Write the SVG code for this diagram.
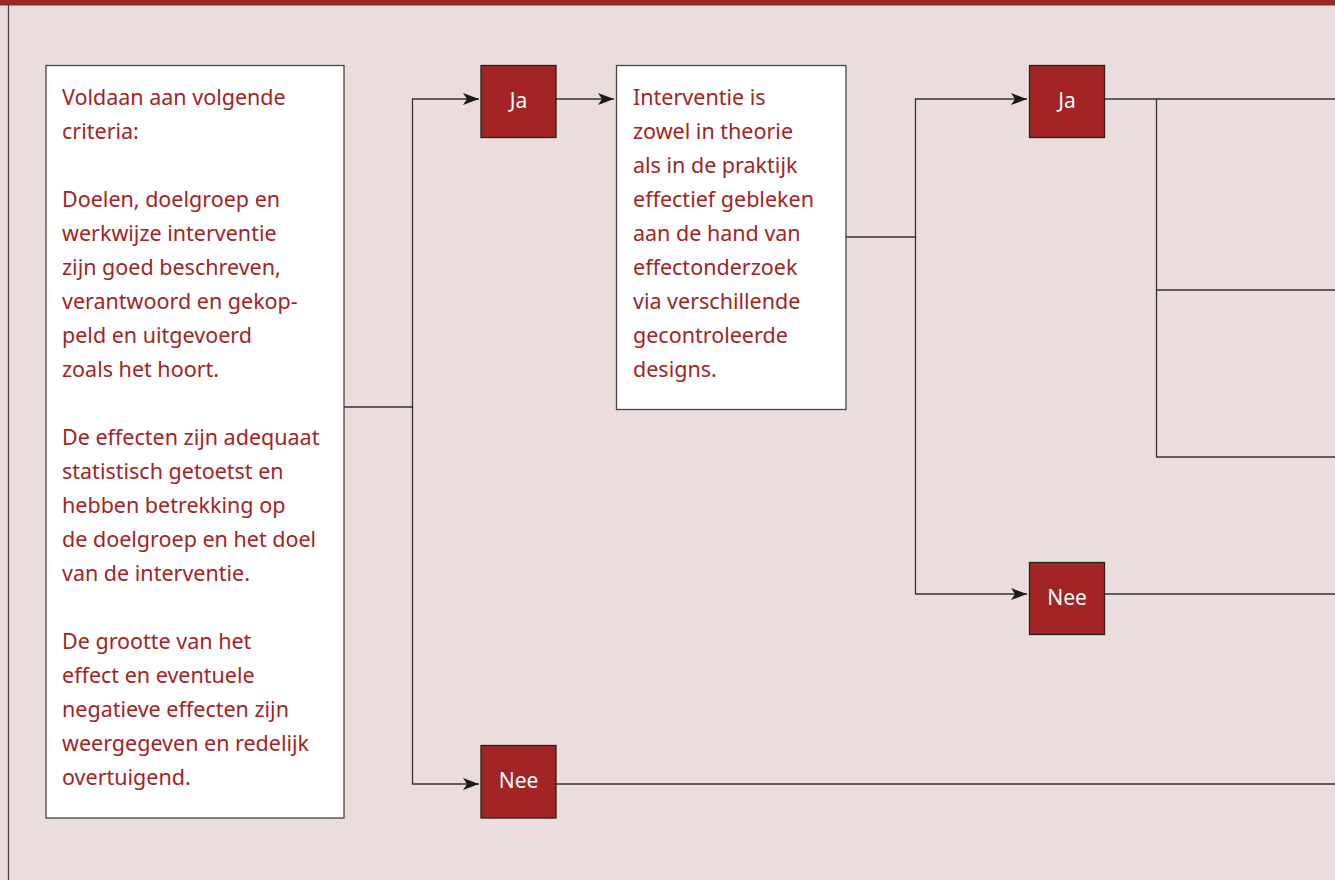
<svg xmlns="http://www.w3.org/2000/svg" width="1335" height="880" viewBox="0 0 1335 880">
<style>
.bg{fill:#ecdddd}
.box{fill:#fff;stroke:#444;stroke-width:1.3}
.rbox{fill:#a22424;stroke:#222;stroke-width:1.3}
.t{font-family:"Noto Sans","Open Sans",sans-serif;font-size:21.5px;fill:#a22424}
.w{font-family:"Noto Sans","Open Sans",sans-serif;font-size:21px;fill:#fff;text-anchor:middle}
.c{fill:none;stroke:#333;stroke-width:1.3}
</style>
<defs>
<marker id="ah" viewBox="0 0 16 12" refX="16" refY="6" markerWidth="16" markerHeight="12" markerUnits="userSpaceOnUse" orient="auto">
<path d="M0,0 L16,6 L0,12 L4,6 Z" fill="#1a1a1a"/>
</marker>
</defs>
<rect class="bg" x="0" y="0" width="1335" height="880"/>
<rect x="0" y="0" width="1335" height="5" fill="#a22424"/>
<line x1="0" y1="5" x2="1335" y2="5" stroke="#444" stroke-width="1"/>
<line x1="8.5" y1="5" x2="8.5" y2="880" stroke="#444" stroke-width="1.3"/>
<g id="connectors">
<path class="c" d="M344,407 H412.5 V99 H479" marker-end="url(#ah)"/>
<path class="c" d="M412.5,407 V784 H479" marker-end="url(#ah)"/>
<path class="c" d="M556,99 H614" marker-end="url(#ah)"/>
<path class="c" d="M846,237 H915.5 V99 H1027" marker-end="url(#ah)"/>
<path class="c" d="M915.5,237 V594 H1027" marker-end="url(#ah)"/>
<path class="c" d="M1104,99 H1335"/>
<path class="c" d="M1156.5,99 V457 H1335"/>
<path class="c" d="M1156.5,290 H1335"/>
<path class="c" d="M1104,594 H1335"/>
<path class="c" d="M556,784 H1335"/>
</g>
<g id="criteria">
<rect class="box" x="46" y="65.5" width="298" height="752.5"/>
<text class="t" x="62">
<tspan x="62" y="105">Voldaan aan volgende</tspan>
<tspan x="62" y="139">criteria:</tspan>
<tspan x="62" y="207">Doelen, doelgroep en</tspan>
<tspan x="62" y="241">werkwijze interventie</tspan>
<tspan x="62" y="275">zijn goed beschreven,</tspan>
<tspan x="62" y="309">verantwoord en gekop-</tspan>
<tspan x="62" y="343">peld en uitgevoerd</tspan>
<tspan x="62" y="377">zoals het hoort.</tspan>
<tspan x="62" y="445">De effecten zijn adequaat</tspan>
<tspan x="62" y="479">statistisch getoetst en</tspan>
<tspan x="62" y="513">hebben betrekking op</tspan>
<tspan x="62" y="547">de doelgroep en het doel</tspan>
<tspan x="62" y="581">van de interventie.</tspan>
<tspan x="62" y="649">De grootte van het</tspan>
<tspan x="62" y="683">effect en eventuele</tspan>
<tspan x="62" y="717">negatieve effecten zijn</tspan>
<tspan x="62" y="751">weergegeven en redelijk</tspan>
<tspan x="62" y="785">overtuigend.</tspan>
</text>
</g>
<g id="ja1">
<rect class="rbox" x="481" y="65.5" width="75" height="72"/>
<text class="w" x="518.5" y="108">Ja</text>
</g>
<g id="interventie">
<rect class="box" x="616.5" y="65.5" width="229.5" height="344"/>
<text class="t">
<tspan x="633" y="105">Interventie is</tspan>
<tspan x="633" y="139">zowel in theorie</tspan>
<tspan x="633" y="173">als in de praktijk</tspan>
<tspan x="633" y="207">effectief gebleken</tspan>
<tspan x="633" y="241">aan de hand van</tspan>
<tspan x="633" y="275">effectonderzoek</tspan>
<tspan x="633" y="309">via verschillende</tspan>
<tspan x="633" y="343">gecontroleerde</tspan>
<tspan x="633" y="377">designs.</tspan>
</text>
</g>
<g id="ja2">
<rect class="rbox" x="1029.5" y="65.5" width="75" height="72"/>
<text class="w" x="1067" y="108">Ja</text>
</g>
<g id="nee2">
<rect class="rbox" x="1029.5" y="562.5" width="75" height="72"/>
<text class="w" x="1067" y="605">Nee</text>
</g>
<g id="nee1">
<rect class="rbox" x="481" y="745.5" width="75" height="72.5"/>
<text class="w" x="518.5" y="788">Nee</text>
</g>
</svg>
